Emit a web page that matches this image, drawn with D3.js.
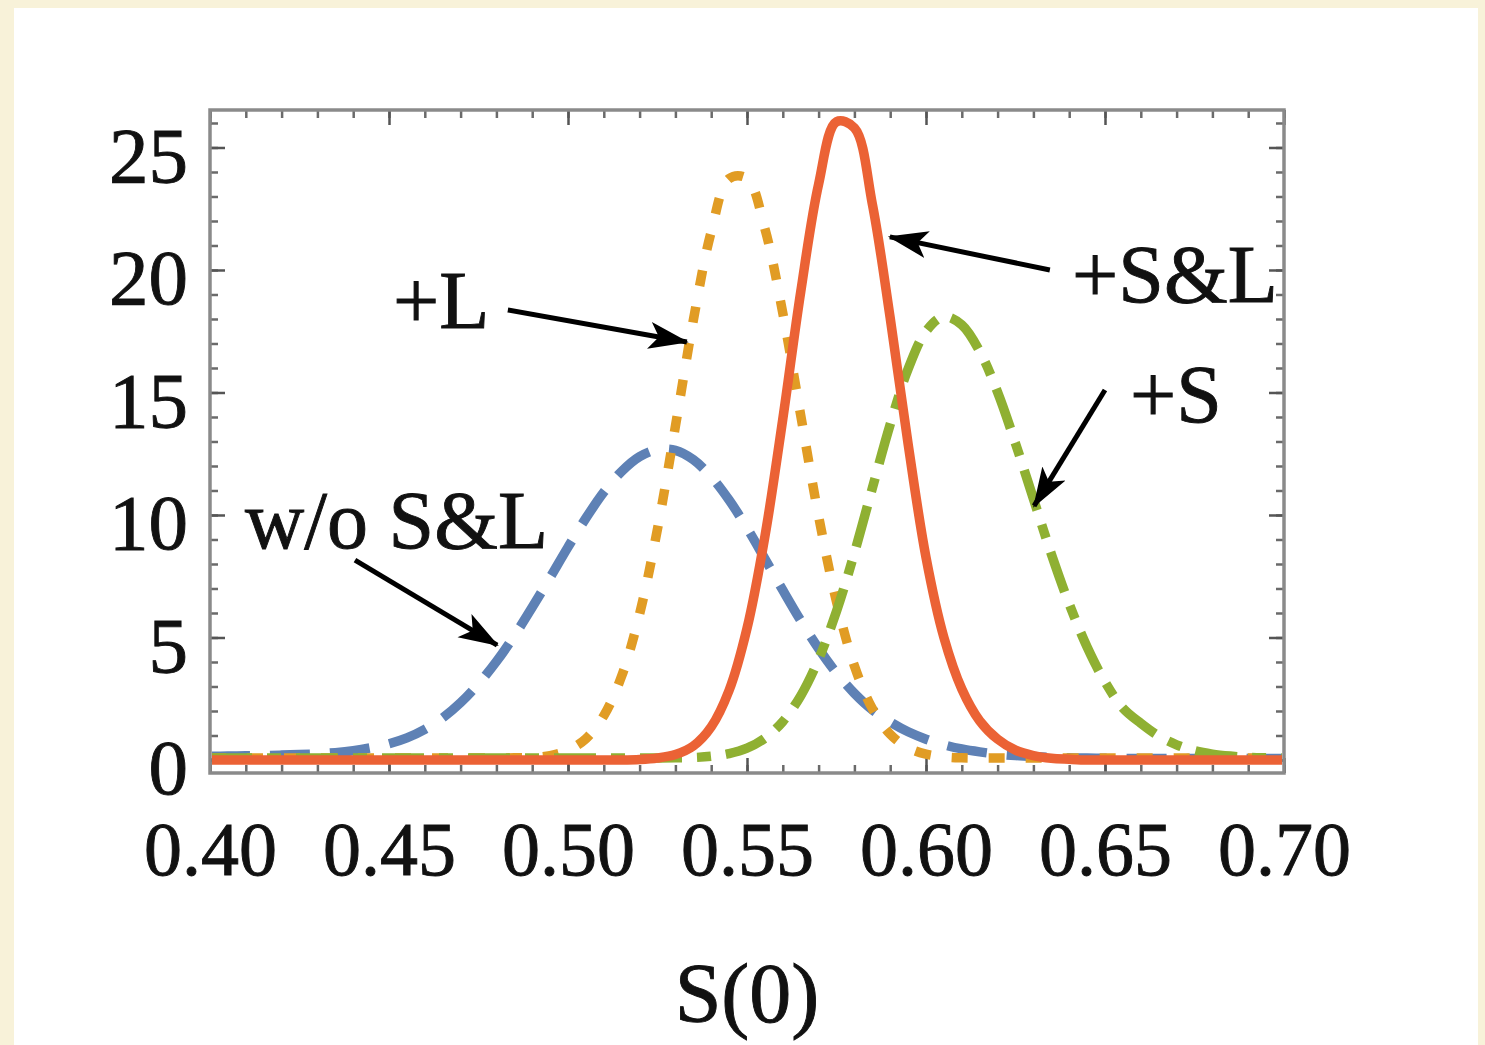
<!DOCTYPE html>
<html>
<head>
<meta charset="utf-8">
<script src="https://cdn.jsdelivr.net/npm/d3@7"></script>
<style>
  body { margin: 0; background: #f8f2d9; }
  svg { display: block; }
</style>
</head>
<body>
<div id="chart"></div>
<script>
// sample points on S(0)
var sValues = [
  0.400,0.405,0.410,0.415,0.420,0.425,0.430,0.435,0.440,0.445,
  0.450,0.455,0.460,0.465,0.470,0.475,0.480,0.485,0.490,0.495,
  0.500,0.505,0.510,0.515,0.520,0.525,0.530,0.535,0.540,0.545,
  0.550,0.555,0.560,0.565,0.570,0.575,0.580,0.585,0.590,0.595,
  0.600,0.605,0.610,0.615,0.620,0.625,0.630,0.635,0.640,0.645,
  0.650,0.655,0.660,0.665,0.670,0.675,0.680,0.685,0.690,0.695,
  0.700];

// w/o S&L
var noSL = [
  0.15,0.16,0.17,0.18,0.20,0.22,0.25,0.30,0.38,0.50,
  0.66,0.90,1.25,1.72,2.34,3.11,4.02,5.07,6.23,7.45,
  8.69,9.87,10.93,11.78,12.38,12.67,12.64,12.26,11.56,10.61,
  9.47,8.21,6.93,5.69,4.55,3.55,2.72,2.05,1.55,1.15,
  0.85,0.62,0.45,0.33,0.24,0.18,0.14,0.11,0.09,0.08,
  0.07,0.06,0.06,0.06,0.06,0.06,0.06,0.06,0.06,0.06,
  0.06];

// +L
var plusL = [
  0.08,0.08,0.08,0.08,0.08,0.08,0.08,0.08,0.08,0.08,
  0.08,0.08,0.08,0.08,0.08,0.08,0.08,0.09,0.10,0.18,
  0.40,0.87,1.81,3.43,5.96,9.43,13.62,17.94,21.56,23.73,
  23.74,21.68,18.24,14.07,9.95,6.46,3.84,2.10,1.05,0.50,
  0.24,0.13,0.09,0.08,0.08,0.08,0.08,0.08,0.08,0.08,
  0.08,0.08,0.08,0.08,0.08,0.08,0.08,0.08,0.08,0.08,
  0.08];

// +S
var plusS = [
  0.08,0.08,0.08,0.08,0.08,0.08,0.08,0.08,0.08,0.08,
  0.08,0.08,0.08,0.08,0.08,0.08,0.08,0.08,0.08,0.08,
  0.08,0.08,0.08,0.08,0.08,0.08,0.09,0.10,0.15,0.26,
  0.48,0.89,1.57,2.62,4.11,6.07,8.45,11.09,13.70,15.96,
  17.50,18.10,17.76,16.68,15.01,12.92,10.66,8.41,6.37,4.61,
  3.19,2.12,1.50,0.98,0.62,0.38,0.24,0.16,0.11,0.09,
  0.08];

// +S&L
var plusSL = [
  0,0,0,0,0,0,0,0,0,0,
  0,0,0,0,0,0,0,0,0,0,
  0,0,0,0,0.02,0.08,0.22,0.57,1.35,2.84,
  5.37,9.12,13.92,19.10,23.50,26.05,25.80,22.70,18.04,12.90,
  8.27,5.00,2.90,1.60,0.85,0.40,0.18,0.07,0.03,0,
  0,0,0,0,0,0,0,0,0,0,
  0];

var xMajor = [0.40, 0.45, 0.50, 0.55, 0.60, 0.65, 0.70];
var yMajor = [0, 5, 10, 15, 20, 25];

// labels and arrows, in data units: [label, label x, label y, arrow from x, y, arrow to x, y]
var notes = [
  ["w/o S&L", 0.4098, 8.65, 0.4405, 8.16, 0.4802, 4.69],
  ["+L",      0.4511, 17.63, 0.4832, 18.37, 0.5332, 17.06],
  ["+S&L",    0.6408, 18.69, 0.6346, 20.00, 0.5899, 21.35],
  ["+S",      0.6570, 13.80, 0.6500, 15.10, 0.6302, 10.37]
];

var width = 1485, height = 1045;
var frameL = 210, frameR = 1284, frameT = 110, frameB = 773;

var svg = d3.select("#chart").append("svg")
    .attr("width", width)
    .attr("height", height);

svg.append("rect").attr("width", width).attr("height", height).attr("fill", "#f8f2d9");
svg.append("rect").attr("x", 14).attr("y", 8).attr("width", 1464).attr("height", height)
    .attr("fill", "#ffffff");

var x = d3.scaleLinear().domain([0.40, 0.70]).range([frameL, frameR]);
var y = d3.scaleLinear().domain([-0.531, 26.53]).range([frameB, frameT]);

var font = "'Liberation Serif', 'Times New Roman', serif";

function styleText(sel, size) {
  sel.style("font-family", font).style("font-size", size + "px")
     .attr("fill", "#111").attr("stroke", "#111").attr("stroke-width", 0.9);
}

// minor ticks
var xMinor = d3.range(40, 71).map(function(d) { return d / 100; });
var yMinor = d3.range(0, 27);

function styleTicks(g, col) {
  g.select(".domain").remove();
  g.selectAll(".tick line").attr("stroke", col).attr("stroke-width", 2.5);
}

svg.append("g").attr("transform", "translate(0," + frameB + ")")
    .call(d3.axisBottom(x).tickValues(xMinor).tickSize(-8).tickFormat(""))
    .call(styleTicks, "#6a6a6a");
svg.append("g").attr("transform", "translate(0," + frameT + ")")
    .call(d3.axisTop(x).tickValues(xMinor).tickSize(-8).tickFormat(""))
    .call(styleTicks, "#6a6a6a");
svg.append("g").attr("transform", "translate(" + frameL + ",0)")
    .call(d3.axisLeft(y).tickValues(yMinor).tickSize(-8).tickFormat(""))
    .call(styleTicks, "#6a6a6a");
svg.append("g").attr("transform", "translate(" + frameR + ",0)")
    .call(d3.axisRight(y).tickValues(yMinor).tickSize(-8).tickFormat(""))
    .call(styleTicks, "#6a6a6a");

// major ticks with labels
var xAxis = svg.append("g").attr("transform", "translate(0," + frameB + ")")
    .call(d3.axisBottom(x).tickValues(xMajor).tickSize(-15).tickPadding(0).tickFormat(d3.format(".2f")))
    .call(styleTicks, "#555");
xAxis.selectAll("text").attr("y", 102).attr("dy", null).call(styleText, 76);

svg.append("g").attr("transform", "translate(0," + frameT + ")")
    .call(d3.axisTop(x).tickValues(xMajor).tickSize(-15).tickFormat(""))
    .call(styleTicks, "#555");

var yAxis = svg.append("g").attr("transform", "translate(" + frameL + ",0)")
    .call(d3.axisLeft(y).tickValues(yMajor).tickSize(-15).tickPadding(22))
    .call(styleTicks, "#555");
yAxis.selectAll("text").attr("dy", "0.43em").call(styleText, 79);

svg.append("g").attr("transform", "translate(" + frameR + ",0)")
    .call(d3.axisRight(y).tickValues(yMajor).tickSize(-15).tickFormat(""))
    .call(styleTicks, "#555");

// frame
svg.append("rect")
    .attr("x", frameL).attr("y", frameT)
    .attr("width", frameR - frameL).attr("height", frameB - frameT)
    .attr("fill", "none").attr("stroke", "#8a8a8a").attr("stroke-width", 3.5);

// curves
svg.append("clipPath").attr("id", "clip").append("rect")
    .attr("x", frameL + 2).attr("y", frameT + 2)
    .attr("width", frameR - frameL - 4).attr("height", frameB - frameT - 4);

var line = d3.line()
    .x(function(d) { return x(d[0]); })
    .y(function(d) { return y(d[1]); })
    .curve(d3.curveCatmullRom.alpha(0.5));

var series = [
  { values: noSL,   color: "#5E81B5", dash: "40,20" },
  { values: plusL,  color: "#E19C24", dash: "16,21" },
  { values: plusS,  color: "#8FB032", dash: "42,15,14,15" },
  { values: plusSL, color: "#EB6235", dash: null }
];

var curves = svg.append("g").attr("clip-path", "url(#clip)");
series.forEach(function(s) {
  curves.append("path")
      .datum(sValues.map(function(v, i) { return [v, s.values[i]]; }))
      .attr("d", line)
      .attr("fill", "none")
      .attr("stroke", s.color)
      .attr("stroke-width", 9.5)
      .attr("stroke-linejoin", "round")
      .attr("stroke-dasharray", s.dash);
});

// arrows
svg.append("defs").append("marker")
    .attr("id", "head")
    .attr("viewBox", "0 0 10 10")
    .attr("refX", 9.5).attr("refY", 5)
    .attr("markerUnits", "userSpaceOnUse")
    .attr("markerWidth", 40).attr("markerHeight", 40)
    .attr("orient", "auto")
  .append("path")
    .attr("d", "M0,1.6 L10,5 L0,8.4 L2.4,5 Z")
    .attr("fill", "#000");

var ann = svg.append("g");
notes.forEach(function(n) {
  ann.append("line")
      .attr("x1", x(n[3])).attr("y1", y(n[4]))
      .attr("x2", x(n[5])).attr("y2", y(n[6]))
      .attr("stroke", "#000").attr("stroke-width", 5)
      .attr("marker-end", "url(#head)");
  ann.append("text")
      .attr("x", x(n[1])).attr("y", y(n[2]))
      .text(n[0])
      .call(styleText, 82);
});

svg.append("text")
    .attr("x", (frameL + frameR) / 2).attr("y", 1022)
    .attr("text-anchor", "middle")
    .text("S(0)")
    .call(styleText, 84);
</script>
</body>
</html>
